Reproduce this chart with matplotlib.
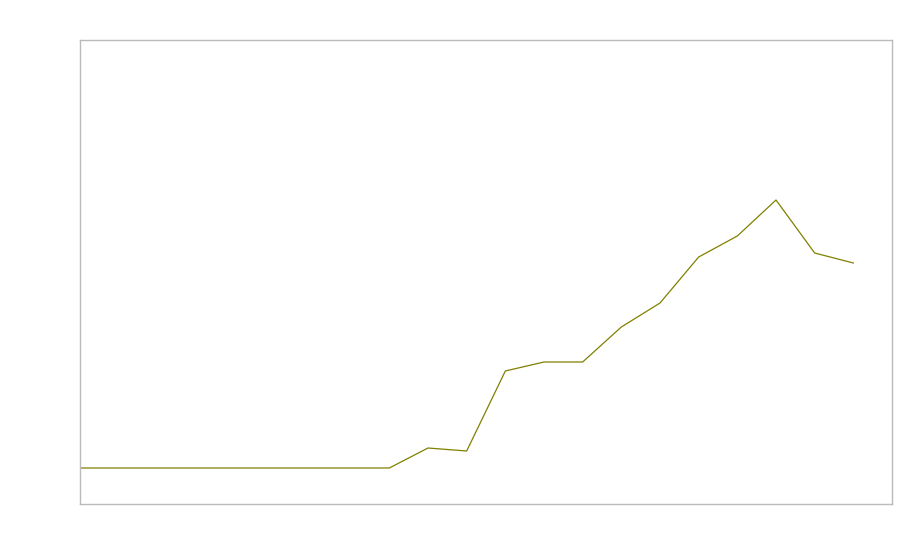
import matplotlib
matplotlib.use("Agg")
import matplotlib.pyplot as plt

# values (arbitrary units, flat start at 0)
steps = list(range(21))
values = [0, 0, 0, 0, 0, 0, 0, 0, 0, 20, 17, 97, 106, 106, 141, 165, 211, 232, 268, 215, 205]

fig = plt.figure(figsize=(9, 5.6), dpi=100)
ax = fig.add_axes([80 / 900, 56 / 560, 812 / 900, 464 / 560])

ax.plot(steps, values, color="#808000", linewidth=0.9)

ax.set_xlim(0, 21)
ax.set_ylim(-36, 428)
ax.set_xticks([])
ax.set_yticks([])
for side in ax.spines.values():
    side.set_color("#bbbbbb")
    side.set_linewidth(1)

fig.savefig("out.png", dpi=100, facecolor="white")
